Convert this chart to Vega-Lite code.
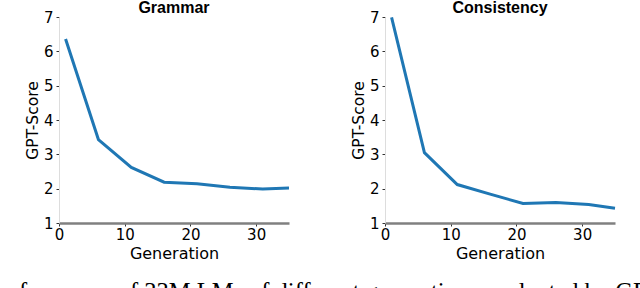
{
  "$schema": "https://vega.github.io/schema/vega-lite/v6.json",
  "padding": {"left": -14, "top": 0, "right": 0, "bottom": 0},
  "background": "white",
  "datasets": {
    "grammar": [
      {"generation": 1, "score": 6.36},
      {"generation": 6, "score": 3.43},
      {"generation": 11, "score": 2.62},
      {"generation": 16, "score": 2.19},
      {"generation": 21, "score": 2.14},
      {"generation": 26, "score": 2.04},
      {"generation": 31, "score": 1.99},
      {"generation": 35, "score": 2.02}
    ],
    "consistency": [
      {"generation": 1, "score": 6.99},
      {"generation": 6, "score": 3.05},
      {"generation": 11, "score": 2.12},
      {"generation": 16, "score": 1.84},
      {"generation": 21, "score": 1.57},
      {"generation": 26, "score": 1.6},
      {"generation": 31, "score": 1.54},
      {"generation": 35, "score": 1.43}
    ]
  },
  "title": {
    "text": "Performance of 33M LMs of different generations evaluated by GPT-4.",
    "orient": "bottom",
    "anchor": "start",
    "frame": "bounds",
    "dx": -39,
    "offset": 39,
    "font": "Liberation Serif",
    "fontSize": 24.5,
    "fontWeight": "normal",
    "color": "#000000",
    "baseline": "alphabetic"
  },
  "spacing": 56,
  "config": {
    "view": {"stroke": null},
    "axis": {
      "grid": false,
      "labelFont": "DejaVu Sans",
      "titleFont": "DejaVu Sans",
      "labelColor": "#000000",
      "titleColor": "#000000",
      "titleFontWeight": "normal",
      "labelFontSize": 15,
      "tickSize": 3,
      "tickColor": "#333333",
      "labelOverlap": false,
      "labelFlush": false
    },
    "axisX": {
      "domainColor": "#808080",
      "domainWidth": 2.5,
      "labelPadding": 1,
      "titleFontSize": 16,
      "titlePadding": 3
    },
    "axisY": {
      "domainColor": "#dddddd",
      "domainWidth": 1,
      "labelPadding": 3,
      "titleFontSize": 15.5,
      "titlePadding": 3
    },
    "title": {
      "font": "Liberation Sans",
      "fontSize": 16,
      "fontWeight": "bold",
      "color": "#000000"
    }
  },
  "hconcat": [
    {
      "width": 230,
      "height": 206,
      "data": {"name": "grammar"},
      "title": {"text": "Grammar", "offset": -19, "baseline": "alphabetic", "font": "Liberation Sans", "fontSize": 16, "fontWeight": "bold", "color": "#000000"},
      "mark": {"type": "line", "color": "#1f77b4", "strokeWidth": 3},
      "encoding": {
        "x": {"field": "generation", "type": "quantitative", "scale": {"domain": [0, 35], "nice": false, "zero": false}, "axis": {"values": [0, 10, 20, 30], "title": "Generation"}},
        "y": {"field": "score", "type": "quantitative", "scale": {"domain": [1, 7], "nice": false, "zero": false}, "axis": {"values": [1, 2, 3, 4, 5, 6, 7], "title": "GPT-Score"}}
      }
    },
    {
      "width": 230,
      "height": 206,
      "data": {"name": "consistency"},
      "title": {"text": "Consistency", "offset": -19, "baseline": "alphabetic", "font": "Liberation Sans", "fontSize": 16, "fontWeight": "bold", "color": "#000000"},
      "mark": {"type": "line", "color": "#1f77b4", "strokeWidth": 3},
      "encoding": {
        "x": {"field": "generation", "type": "quantitative", "scale": {"domain": [0, 35], "nice": false, "zero": false}, "axis": {"values": [0, 10, 20, 30], "title": "Generation"}},
        "y": {"field": "score", "type": "quantitative", "scale": {"domain": [1, 7], "nice": false, "zero": false}, "axis": {"values": [1, 2, 3, 4, 5, 6, 7], "title": "GPT-Score"}}
      }
    }
  ]
}
